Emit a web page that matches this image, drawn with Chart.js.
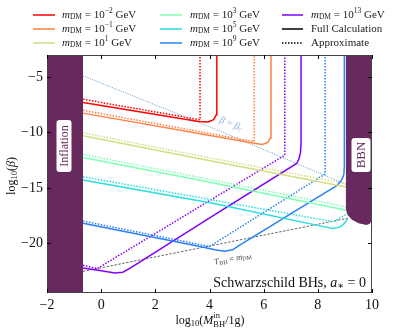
<!DOCTYPE html>
<html>
<head>
    <title>Schwarzschild BHs</title>
    <script src="https://cdn.jsdelivr.net/npm/chart.js"></script>
    <style>
        body { margin: 0; background: #fff; }
    </style>
</head>
<body>
    <canvas id="chart" width="395" height="333"></canvas>

    <script>
        // axes
        const xTicks = [-2, 0, 2, 4, 6, 8, 10];
        const yTicks = [-5, -10, -15, -20];

        // m_DM exponents (GeV), one per colour
        const massExponents = ['−2', '−1', '1', '3', '5', '9', '13'];

        // curves: [log10(M_BH), log10(beta)]
        const fullM2 = [[-0.67, -7.3], [3.6, -9.0], [3.95, -9.05], [4.15, -8.85], [4.25, -8.4], [4.27, -7.8], [4.27, -3]];
        const approxM2 = [[-0.67, -7.0], [3.65, -8.85], [3.65, -3]];
        const fullM1 = [[-0.67, -8.25], [5.7, -11.0], [5.95, -11.08], [6.15, -10.9], [6.25, -10.5], [6.27, -9.8], [6.27, -3]];
        const approxM1 = [[-0.67, -8.0], [5.65, -10.82], [5.65, -3]];
        const full1 = [[-0.67, -10.3], [4.02, -12.56], [9.1, -14.95]];
        const approx1 = [[-0.67, -10.03], [4.02, -12.3], [9.1, -14.65]];
        const full3 = [[-0.67, -12.25], [4.02, -14.5], [9.1, -17.05]];
        const approx3 = [[-0.67, -11.98], [4.02, -14.24], [9.1, -16.75]];
        const full5 = [[-0.67, -14.3], [4.02, -16.35], [8.3, -18.55], [8.55, -18.68], [8.8, -18.55], [8.95, -18.3], [9.1, -17.8]];
        const approx5 = [[-0.67, -14.0], [4.02, -16.05], [8.58, -18.07], [9.1, -17.3]];
        const full9 = [[-0.67, -18.2], [3.65, -20.3], [4.2, -20.6], [4.55, -20.72], [4.85, -20.6], [5.1, -20.2], [7.22, -17.01], [8.7, -14.8], [8.88, -14.3], [8.96, -13.8], [8.98, -13.0], [8.98, -3]];
        const approx9 = [[-0.67, -18.0], [4.0, -20.3], [8.27, -13.75], [8.27, -3]];
        const full13 = [[-0.67, -22.25], [0.0, -22.5], [0.5, -22.7], [0.8, -22.62], [1.1, -22.2], [4.02, -17.7], [7.22, -12.8], [7.3, -12.4], [7.36, -11.8], [7.38, -11.0], [7.38, -3]];
        const approx13 = [[-0.67, -22.0], [-0.15, -22.3], [6.78, -12.05], [6.78, -3]];

        const betaCrit = [[-0.67, -4.88], [4.02, -9.5], [9.1, -14.75]];
        const tbhEqualsM = [[-0.67, -22.55], [9.1, -17.75]];

        // excluded regions
        const inflationEdge = [[-2, -3], [-0.67, -3]];
        const bbnEdge = [[9.03, -16.9], [9.1, -17.45], [9.25, -17.85], [9.5, -18.2], [9.8, -18.35], [9.92, -18.25], [10, -17.9]];

        const fullSets = [fullM2, fullM1, full1, full3, full5, full9, full13];
        const approxSets = [approxM2, approxM1, approx1, approx3, approx5, approx9, approx13];
        const colors = ['#ff0000', '#ff8042', '#d4dd80', '#80ffb4', '#2addde', '#2a80f6', '#8000ff'];
        const regionColor = '#68295f';
        const serif = '"Liberation Serif", "DejaVu Serif", serif';

        const pts = arr => arr.map(p => ({ x: p[0], y: p[1] }));

        const datasets = [];
        datasets.push({ data: pts(inflationEdge), fill: 'start', backgroundColor: regionColor, borderColor: regionColor, borderWidth: 0, order: -2 });
        datasets.push({ data: pts(bbnEdge), fill: 'end', backgroundColor: regionColor, borderColor: regionColor, borderWidth: 0, order: -2 });
        fullSets.forEach((d, i) => {
            datasets.push({ data: pts(d), borderColor: colors[i], borderWidth: 1.5, fill: false, order: 1 });
        });
        approxSets.forEach((d, i) => {
            datasets.push({ data: pts(d), borderColor: colors[i], borderWidth: 1.5, borderDash: [1.5, 1.5], fill: false, order: 2 });
        });
        datasets.push({ data: pts(betaCrit), borderColor: '#6fa6d8', borderWidth: 1, borderDash: [1.2, 1.2], fill: false, order: 3 });
        datasets.push({ data: pts(tbhEqualsM), borderColor: '#555555', borderWidth: 0.9, borderDash: [2.5, 1.5], fill: false, order: 3 });

        // rich text: parts = {t, s (size), i (italic), dy}
        function richWidth(ctx, parts) {
            let w = 0;
            parts.forEach(p => {
                ctx.font = (p.i ? 'italic ' : '') + p.s + 'px ' + serif;
                w += ctx.measureText(p.t).width;
            });
            return w;
        }
        function drawRich(ctx, parts, x, y, align) {
            const w = richWidth(ctx, parts);
            let cx = align === 'center' ? x - w / 2 : (align === 'right' ? x - w : x);
            ctx.textAlign = 'left';
            ctx.textBaseline = 'middle';
            parts.forEach(p => {
                ctx.font = (p.i ? 'italic ' : '') + p.s + 'px ' + serif;
                ctx.fillText(p.t, cx, y + (p.dy || 0));
                cx += ctx.measureText(p.t).width;
            });
        }
        function massParts(exp) {
            return [
                { t: 'm', s: 11, i: true },
                { t: 'DM', s: 7.5, dy: 2.5 },
                { t: ' = 10', s: 11 },
                { t: exp, s: 7.5, dy: -4 },
                { t: ' GeV', s: 11 }
            ];
        }
        function roundBox(ctx, x, y, w, h, r) {
            ctx.beginPath();
            ctx.moveTo(x + r, y);
            ctx.arcTo(x + w, y, x + w, y + h, r);
            ctx.arcTo(x + w, y + h, x, y + h, r);
            ctx.arcTo(x, y + h, x, y, r);
            ctx.arcTo(x, y, x + w, y, r);
            ctx.closePath();
            ctx.fill();
        }

        const decorations = {
            id: 'decorations',
            afterDraw(chart) {
                const ctx = chart.ctx;
                const a = chart.chartArea;
                const xs = chart.scales.x, ys = chart.scales.y;
                ctx.save();

                // frame and inward ticks
                ctx.strokeStyle = '#444';
                ctx.lineWidth = 1;
                ctx.strokeRect(a.left + 0.5, a.top + 0.5, a.right - a.left - 1, a.bottom - a.top - 1);
                ctx.strokeStyle = '#000';
                ctx.beginPath();
                xTicks.forEach(v => {
                    const px = Math.round(xs.getPixelForValue(v)) + 0.5;
                    ctx.moveTo(px, a.bottom); ctx.lineTo(px, a.bottom - 4);
                    ctx.moveTo(px, a.top); ctx.lineTo(px, a.top + 4);
                });
                yTicks.forEach(v => {
                    const py = Math.round(ys.getPixelForValue(v)) + 0.5;
                    ctx.moveTo(a.left, py); ctx.lineTo(a.left + 4, py);
                    ctx.moveTo(a.right, py); ctx.lineTo(a.right - 4, py);
                });
                ctx.stroke();

                // region labels
                const drawRegionLabel = (text, cx, cy, bw, bh, size) => {
                    ctx.save();
                    ctx.translate(cx, cy);
                    ctx.rotate(-Math.PI / 2);
                    ctx.fillStyle = '#ffffff';
                    roundBox(ctx, -bw / 2, -bh / 2, bw, bh, 3);
                    ctx.fillStyle = regionColor;
                    ctx.font = size + 'px ' + serif;
                    ctx.textAlign = 'center';
                    ctx.textBaseline = 'middle';
                    ctx.fillText(text, 0, 1);
                    ctx.restore();
                };
                drawRegionLabel('Inflation', 64, 146, 52, 15, 12);
                drawRegionLabel('BBN', 361, 155, 34, 19, 13);

                // line annotations
                ctx.save();
                ctx.translate(231, 124);
                ctx.rotate(22 * Math.PI / 180);
                ctx.fillStyle = '#8db6de';
                drawRich(ctx, [{ t: 'β', s: 10, i: true }, { t: ' = ', s: 10 }, { t: 'β', s: 10, i: true }, { t: 'c', s: 7, dy: 2 }], 0, 0, 'center');
                ctx.restore();

                ctx.save();
                ctx.translate(233, 259);
                ctx.rotate(-11 * Math.PI / 180);
                ctx.fillStyle = '#444';
                drawRich(ctx, [{ t: 'T', s: 8.5, i: true }, { t: 'BH', s: 6, dy: 2 }, { t: ' = ', s: 8.5 }, { t: 'm', s: 8.5, i: true }, { t: 'DM', s: 6, dy: 2 }], 0, 0, 'center');
                ctx.restore();

                ctx.fillStyle = '#111';
                drawRich(ctx, [{ t: 'Schwarzschild BHs, ', s: 14 }, { t: 'a', s: 14, i: true }, { t: '∗', s: 10, dy: 3 }, { t: ' = 0', s: 14 }], 366, 283, 'right');

                // axis titles
                ctx.fillStyle = '#111';
                const xt = [{ t: 'log', s: 12 }, { t: '10', s: 8.5, dy: 3 }, { t: '(', s: 12 }, { t: 'M', s: 12, i: true }];
                const tail = [{ t: '/1g)', s: 12 }];
                ctx.font = '8.5px ' + serif;
                const stackW = ctx.measureText('BH').width;
                const totalW = richWidth(ctx, xt) + stackW + richWidth(ctx, tail);
                let x0 = 210 - totalW / 2;
                drawRich(ctx, xt, x0, 321, 'left');
                x0 += richWidth(ctx, xt);
                ctx.font = '8.5px ' + serif;
                ctx.fillText('in', x0, 316);
                ctx.fillText('BH', x0, 325);
                drawRich(ctx, tail, x0 + stackW, 321, 'left');

                ctx.save();
                ctx.translate(12, 176);
                ctx.rotate(-Math.PI / 2);
                drawRich(ctx, [{ t: 'log', s: 12 }, { t: '10', s: 8.5, dy: 3 }, { t: '(', s: 12 }, { t: 'β', s: 12, i: true }, { t: ')', s: 12 }], 0, 0, 'center');
                ctx.restore();

                // legend, three columns filled top to bottom
                const rows = [15, 29, 43];
                const cols = [{ l: 33, r: 55, t: 62 }, { l: 160, r: 182, t: 190 }, { l: 282, r: 303, t: 311 }];
                const entries = [];
                massExponents.forEach((e, i) => entries.push({ color: colors[i], dash: [], parts: massParts(e) }));
                entries.push({ color: '#000', dash: [], parts: [{ t: 'Full Calculation', s: 11 }] });
                entries.push({ color: '#000', dash: [1.5, 1.5], parts: [{ t: 'Approximate', s: 11 }] });
                entries.forEach((en, k) => {
                    const c = cols[Math.floor(k / 3)];
                    const y = rows[k % 3];
                    ctx.strokeStyle = en.color;
                    ctx.lineWidth = 1.5;
                    ctx.setLineDash(en.dash);
                    ctx.beginPath();
                    ctx.moveTo(c.l, y); ctx.lineTo(c.r, y);
                    ctx.stroke();
                    ctx.setLineDash([]);
                    ctx.fillStyle = '#222';
                    drawRich(ctx, en.parts, c.t, y, 'left');
                });

                ctx.restore();
            }
        };

        const ctx = document.getElementById('chart').getContext('2d');
        new Chart(ctx, {
            type: 'scatter',
            data: { datasets: datasets },
            options: {
                responsive: false,
                animation: false,
                showLine: true,
                elements: { point: { radius: 0 }, line: { tension: 0 } },
                layout: { padding: { top: 55, right: 23, left: 0, bottom: 0 } },
                plugins: { legend: { display: false }, tooltip: { enabled: false } },
                scales: {
                    x: {
                        type: 'linear', min: -2, max: 10,
                        grid: { display: false, drawTicks: false },
                        border: { display: false },
                        afterBuildTicks: s => { s.ticks = xTicks.map(v => ({ value: v })); },
                        afterFit: s => { s.height = 40; },
                        ticks: {
                            padding: 4, color: '#111',
                            font: { family: serif, size: 14 },
                            callback: v => String(v).replace('-', '\u2212')
                        }
                    },
                    y: {
                        type: 'linear', min: -24.5, max: -3,
                        grid: { display: false, drawTicks: false },
                        border: { display: false },
                        afterBuildTicks: s => { s.ticks = yTicks.map(v => ({ value: v })); },
                        afterFit: s => { s.width = 47; },
                        ticks: {
                            padding: 4, color: '#111',
                            font: { family: serif, size: 14 },
                            callback: v => String(v).replace('-', '\u2212')
                        }
                    }
                }
            },
            plugins: [decorations]
        });
    </script>
</body>
</html>
